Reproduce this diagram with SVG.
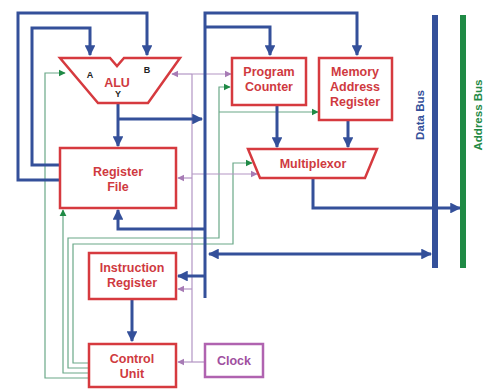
<svg xmlns="http://www.w3.org/2000/svg" width="485" height="389" viewBox="0 0 485 389">
<defs>
<style>
.box{fill:#fff;stroke:#d63a3f;stroke-width:2.5}
.lbl{font-family:"Liberation Sans",Arial,sans-serif;font-weight:bold;font-size:12.5px;fill:#cf3a3f;text-anchor:middle}
.port{font-family:"Liberation Sans",Arial,sans-serif;font-weight:bold;font-size:9px;fill:#222;text-anchor:middle}
.blue{fill:none;stroke:#34509a;stroke-width:3}
.green{fill:none;stroke:#6aa888;stroke-width:1.2}
.purple{fill:none;stroke:#b395c4;stroke-width:1.2}
</style>
<marker id="ab" viewBox="0 0 10 10" refX="9" refY="5" markerWidth="3.6" markerHeight="3.6" orient="auto-start-reverse" markerUnits="strokeWidth"><path d="M0,0 L10,5 L0,10 Z" fill="#34509a"/></marker>
<marker id="ag" viewBox="0 0 10 10" refX="9" refY="5" markerWidth="6" markerHeight="6" orient="auto" markerUnits="strokeWidth"><path d="M0,0 L10,5 L0,10 Z" fill="#1f8a45"/></marker>
<marker id="ap" viewBox="0 0 10 10" refX="9" refY="5" markerWidth="6" markerHeight="6" orient="auto" markerUnits="strokeWidth"><path d="M0,0 L10,5 L0,10 Z" fill="#a77bb5"/></marker>
</defs>
<rect width="485" height="389" fill="#fff"/>

<g id="connectors">
<path class="green" d="M89,378 H45 V73 H65" marker-end="url(#ag)"/>
<path class="green" d="M89,373 H63 V210" marker-end="url(#ag)"/>
<path class="green" d="M89,368 H68 V238 H219 V87 H230" marker-end="url(#ag)"/>
<path class="green" d="M219,112 H318" marker-end="url(#ag)"/>
<path class="green" d="M89,363 H73 V244 H233 V163 H252" marker-end="url(#ag)"/>
<path class="purple" d="M205,362 H178" marker-end="url(#ap)"/>
<path class="purple" d="M192,362 V74"/>
<path class="purple" d="M192,74 H172" marker-end="url(#ap)"/>
<path class="purple" d="M192,74 H231" marker-end="url(#ap)"/>
<path class="purple" d="M192,178 H178" marker-end="url(#ap)"/>
<path class="purple" d="M192,174 H257" marker-end="url(#ap)"/>
<path class="purple" d="M192,289 H178" marker-end="url(#ap)"/>
<path class="blue" d="M60,180 H18 V13 H147 V55" marker-end="url(#ab)"/>
<path class="blue" d="M60,165 H32 V28 H90 V55" marker-end="url(#ab)"/>
<path class="blue" d="M118,103 V146" marker-end="url(#ab)"/>
<path class="blue" d="M118,119 H202" marker-end="url(#ab)"/>
<path class="blue" d="M205,298 V13 H357 V55" marker-end="url(#ab)"/>
<path class="blue" d="M205,27 H270 V55" marker-end="url(#ab)"/>
<path class="blue" d="M277,105 V147" marker-end="url(#ab)"/>
<path class="blue" d="M348,120 V147" marker-end="url(#ab)"/>
<path class="blue" d="M313,178 V208 H460" marker-end="url(#ab)"/>
<path class="blue" d="M209,254 H431" marker-start="url(#ab)" marker-end="url(#ab)"/>
<path class="blue" d="M205,229 H118 V210" marker-end="url(#ab)"/>
<path class="blue" d="M205,276 H178" marker-end="url(#ab)"/>
<path class="blue" d="M132,299 V341" marker-end="url(#ab)"/>
</g>

<g id="data-bus">
<line x1="435" y1="15" x2="435" y2="268" stroke="#34509a" stroke-width="6"/>
<text transform="translate(424,115) rotate(-90)" font-family="Liberation Sans,Arial,sans-serif" font-weight="bold" font-size="11.5" fill="#34509a" text-anchor="middle">Data Bus</text>
</g>
<g id="address-bus">
<line x1="463" y1="15" x2="463" y2="268" stroke="#1f8a45" stroke-width="6"/>
<text transform="translate(482,115) rotate(-90)" font-family="Liberation Sans,Arial,sans-serif" font-weight="bold" font-size="11.5" fill="#1f8a45" text-anchor="middle">Address Bus</text>
</g>

<g id="alu">
<polygon class="box" points="60,58 110,58 117,66 124,58 180,58 148,103 98,103"/>
<text class="lbl" x="117" y="87" font-size="14">ALU</text>
<text class="port" x="90" y="78">A</text>
<text class="port" x="147" y="73">B</text>
<text class="port" x="118" y="97">Y</text>
</g>
<g id="register-file">
<rect class="box" x="60" y="148" width="116" height="60"/>
<text class="lbl" x="118" y="176">Register</text>
<text class="lbl" x="118" y="191">File</text>
</g>
<g id="program-counter">
<rect class="box" x="232" y="58" width="74" height="47"/>
<text class="lbl" x="269" y="76">Program</text>
<text class="lbl" x="269" y="91">Counter</text>
</g>
<g id="mar">
<rect class="box" x="319" y="58" width="73" height="62"/>
<text class="lbl" x="355" y="76">Memory</text>
<text class="lbl" x="355" y="91">Address</text>
<text class="lbl" x="355" y="106">Register</text>
</g>
<g id="multiplexor">
<polygon class="box" points="248,149 377,149 365,178 260,178"/>
<text class="lbl" x="313" y="168">Multiplexor</text>
</g>
<g id="instruction-register">
<rect class="box" x="89" y="253" width="87" height="46"/>
<text class="lbl" x="132" y="272">Instruction</text>
<text class="lbl" x="132" y="287">Register</text>
</g>
<g id="control-unit">
<rect class="box" x="89" y="344" width="87" height="43"/>
<text class="lbl" x="132" y="363">Control</text>
<text class="lbl" x="132" y="378">Unit</text>
</g>
<g id="clock">
<rect x="205" y="344" width="58" height="33" fill="#fff" stroke="#b063b0" stroke-width="2.5"/>
<text class="lbl" x="234" y="365" style="fill:#a0509f">Clock</text>
</g>
</svg>
